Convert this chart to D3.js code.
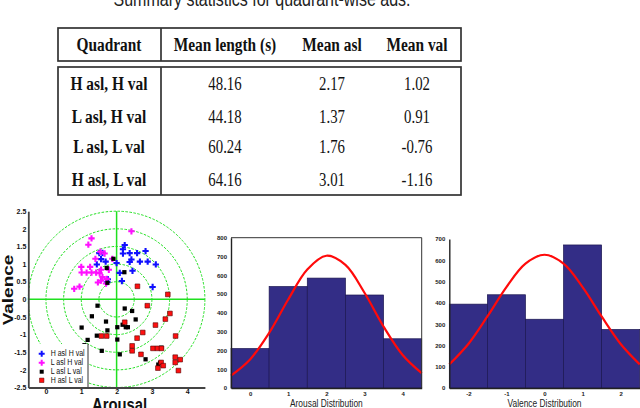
<!DOCTYPE html>
<html>
<head>
<meta charset="utf-8">
<script src="https://cdnjs.cloudflare.com/ajax/libs/d3/7.8.5/d3.min.js"></script>
<style>
  body { margin: 0; background: #fff; }
  svg { display: block; }
</style>
</head>
<body>
<div id="chart"></div>
<script>
// ---- table values ----
const tableHeader = ["Quadrant", "Mean length (s)", "Mean asl", "Mean val"];
const quadrants = ["H asl, H val", "L asl, H val", "L asl, L val", "H asl, L val"];
const meanLength = ["48.16", "44.18", "60.24", "64.16"];
const meanAsl = ["2.17", "1.37", "1.76", "3.01"];
const meanVal = ["1.02", "0.91", "-0.76", "-1.16"];

// ---- scatter values [arousal, valence] ----
const hAslHVal = [[2.23,1.54],[2.18,1.42],[2.18,1.30],[2.37,1.31],[2.58,1.31],[2.82,1.37],[2.42,1.13],[2.37,1.06],
  [2.66,1.07],[2.88,1.07],[3.11,0.99],[2.45,0.81],[2.09,0.75],[2.15,0.52],[3.02,0.35],[1.51,1.31],[1.60,1.32],
  [1.56,1.14],[1.44,0.99],[1.69,1.07],[1.74,0.49],[1.75,0.57],[2.0,1.03]];
const lAslHVal = [[2.42,1.93],[1.29,1.73],[1.20,1.55],[1.54,1.35],[1.66,1.30],[1.40,1.15],[1.00,0.92],[1.25,0.92],
  [1.01,0.76],[1.15,0.76],[1.29,0.76],[1.42,0.76],[1.52,0.74],[1.56,0.84],[1.78,0.84],[1.60,0.63],[1.47,0.48],
  [1.56,0.53],[1.72,0.58],[0.80,0.30],[0.95,0.36],[1.70,0.45],[1.88,1.15]];
const lAslLVal = [[1.91,1.15],[1.72,0.89],[2.22,0.77],[1.74,0.47],[1.46,-0.18],[1.30,-0.48],[2.23,-0.26],[2.44,-0.33],
  [2.54,-0.57],[1.70,-0.63],[1.01,-0.80],[1.74,-0.88],[2.02,-0.79],[2.17,-0.72],[2.26,-0.79],[2.32,-0.79],[1.44,-1.03],
  [1.18,-1.15],[2.02,-1.14],[1.09,-1.30],[1.58,-1.46],[2.09,-1.56],[2.82,-1.70],[3.18,-1.85],[3.27,-1.37],[3.23,-1.80]];
const hAslLVal = [[2.59,0.37],[3.45,0.14],[2.87,-0.18],[3.51,-0.40],[3.38,-0.56],[3.10,-0.73],[2.23,-0.65],[2.74,-0.94],
  [2.58,-1.10],[1.57,-1.04],[1.72,-1.04],[2.44,-1.32],[2.44,-1.46],[2.69,-1.56],[3.03,-1.39],[3.16,-1.39],[3.27,-1.39],
  [3.67,-1.04],[3.66,-1.64],[3.80,-1.71],[3.66,-1.79],[3.26,-1.79],[3.32,-1.88],[3.17,-1.95],[3.75,-2.02]];
const legendLabels = ["H asl H val", "L asl H val", "L asl L val", "H asl L val"];
const ringRadii = [0.5, 1, 1.5, 2, 2.5];
const scatterXTicks = [0, 1, 2, 3, 4];
const scatterYTicks = [-2.5, -2, -1.5, -1, -0.5, 0, 0.5, 1, 1.5, 2, 2.5];

// ---- histograms ----
const arousalBins = [0, 1, 2, 3, 4];
const arousalCounts = [210, 540, 585, 495, 262];
const arousalCurveX = [-0.5, 0, 0.5, 1, 1.5, 2, 2.5, 3, 3.5, 4, 4.5];
const arousalCurveY = [66, 152, 293, 471, 631, 704, 655, 507, 327, 176, 79];
const arousalYTicks = [0, 100, 200, 300, 400, 500, 600, 700, 800];

const valenceBins = [-2, -1, 0, 1, 2];
const valenceCounts = [394, 438, 323, 672, 275];
const valenceCurveX = [-2.5, -2, -1.5, -1, -0.5, 0, 0.5, 1, 1.5, 2, 2.5];
const valenceCurveY = [111, 207, 336, 474, 584, 626, 584, 474, 336, 207, 111];
const valenceYTicks = [0, 100, 200, 300, 400, 500, 600, 700];
const valenceXTicks = [-2, -1, 0, 1, 2];

const W = 640, H = 408;
const svg = d3.select("#chart").append("svg").attr("width", W).attr("height", H);
svg.append("rect").attr("width", W).attr("height", H).attr("fill", "#fff");

// plain hyphen minus, like the original figure
const plain = d => String(d);

// squeezed text helper (the figure is compressed horizontally)
function sText(g, x, y, str, size, sx, opts) {
  opts = opts || {};
  return g.append("text")
    .attr("transform", "translate(" + x + "," + y + ") scale(" + sx + ",1)")
    .attr("text-anchor", opts.anchor || "middle")
    .attr("font-family", opts.family || "'Liberation Serif', serif")
    .attr("font-weight", opts.weight || "normal")
    .attr("font-size", size)
    .attr("fill", opts.fill || "#111")
    .text(str);
}

// ================= caption + table =================
sText(svg, 262, 5.5, "Summary statistics for quadrant-wise ads.", 20, 0.8,
  {family: "'Liberation Sans', Arial, sans-serif", fill: "#222"});

const tbl = svg.append("g");
const colX = [109, 225, 332, 417];
const rowY = [90, 122.7, 153.3, 185.7];
tbl.append("rect").attr("x", 58).attr("y", 28).attr("width", 403).attr("height", 33)
  .attr("fill", "none").attr("stroke", "#333").attr("stroke-width", 1.7);
tbl.append("rect").attr("x", 58).attr("y", 67).attr("width", 403).attr("height", 128)
  .attr("fill", "none").attr("stroke", "#333").attr("stroke-width", 1.7);
tbl.append("line").attr("x1", 161).attr("x2", 161).attr("y1", 28).attr("y2", 61)
  .attr("stroke", "#333").attr("stroke-width", 1.7);
tbl.append("line").attr("x1", 161).attr("x2", 161).attr("y1", 67).attr("y2", 195)
  .attr("stroke", "#333").attr("stroke-width", 1.7);

tableHeader.forEach((h, i) => sText(tbl, colX[i], 50.7, h, 19, 0.81, {weight: "bold"}));
const cols = [meanLength, meanAsl, meanVal];
quadrants.forEach((q, r) => {
  sText(tbl, colX[0], rowY[r], q, 19, 0.81, {weight: "bold"});
  cols.forEach((c, i) => sText(tbl, colX[i + 1], rowY[r], c[r], 19, 0.78));
});

// ================= scatter =================
const sx = d3.scaleLinear().domain([-0.5, 4.5]).range([28.3, 204.9]);
const sy = d3.scaleLinear().domain([-2.5, 2.5]).range([387.5, 211.2]);
const sc = svg.append("g");
const green = "#1fe01f";

ringRadii.forEach(r => {
  sc.append("ellipse")
    .attr("cx", sx(2)).attr("cy", sy(0))
    .attr("rx", sx(2 + r) - sx(2)).attr("ry", sy(0) - sy(r))
    .attr("fill", "none").attr("stroke", green).attr("stroke-width", 1)
    .attr("stroke-dasharray", "2.5,1.5");
});
sc.append("line").attr("x1", sx(2)).attr("x2", sx(2)).attr("y1", sy(2.5)).attr("y2", sy(-2.5))
  .attr("stroke", green).attr("stroke-width", 1.5);
sc.append("line").attr("x1", sx(-0.5)).attr("x2", sx(4.5)).attr("y1", sy(0)).attr("y2", sy(0))
  .attr("stroke", green).attr("stroke-width", 1.5);

const series = [
  {pts: hAslHVal, sym: d3.symbolCross, size: 22, fill: "#1010ff", stroke: "none"},
  {pts: lAslHVal, sym: d3.symbolCross, size: 22, fill: "#ff10ff", stroke: "none"},
  {pts: lAslLVal, sym: d3.symbolSquare, size: 18, fill: "#000", stroke: "none"},
  {pts: hAslLVal, sym: d3.symbolSquare, size: 22, fill: "#ff1010", stroke: "#500"}
];
series.forEach(s => {
  sc.append("g").selectAll("path").data(s.pts).join("path")
    .attr("transform", d => "translate(" + sx(d[0]) + "," + sy(d[1]) + ")")
    .attr("d", d3.symbol().type(s.sym).size(s.size))
    .attr("fill", s.fill).attr("stroke", s.stroke).attr("stroke-width", 0.6);
});

// legend
const lg = sc.append("g");
lg.append("rect").attr("x", 29).attr("y", 344).attr("width", 59).attr("height", 43).attr("fill", "#fff");
lg.append("line").attr("x1", 88).attr("x2", 88).attr("y1", 344).attr("y2", 387)
  .attr("stroke", "#333").attr("stroke-width", 1);
const legY = [353.7, 362.7, 371.7, 380.3];
series.forEach((s, i) => {
  lg.append("path").attr("transform", "translate(41.7," + legY[i] + ")")
    .attr("d", d3.symbol().type(s.sym).size(s.size * 0.9))
    .attr("fill", s.fill).attr("stroke", s.stroke).attr("stroke-width", 0.5);
  sText(lg, 50.7, legY[i] + 2.6, legendLabels[i], 9, 0.78,
    {anchor: "start", family: "'Liberation Sans', Arial, sans-serif", fill: "#111"});
});

// scatter axes
const sAxY = sc.append("g").attr("transform", "translate(28.3,0)")
  .call(d3.axisLeft(sy).tickValues(scatterYTicks).tickSize(0).tickPadding(2).tickFormat(plain));
const sAxX = sc.append("g").attr("transform", "translate(0,387.5)")
  .call(d3.axisBottom(sx).tickValues(scatterXTicks).tickSize(0).tickPadding(2).tickFormat(plain));
[sAxY, sAxX].forEach(a => {
  a.select(".domain").attr("stroke", "#444").attr("stroke-width", 1.8);
  a.selectAll("text").attr("font-family", "'Liberation Sans', Arial, sans-serif")
    .attr("font-weight", "bold").attr("font-size", 7).attr("fill", "#111");
});

sText(svg, 119.5, 410.5, "Arousal", 19, 0.78,
  {family: "'Liberation Sans', Arial, sans-serif", weight: "bold"});
svg.append("text")
  .attr("transform", "translate(12.5,290) rotate(-90) scale(1,0.8)")
  .attr("text-anchor", "middle")
  .attr("font-family", "'Liberation Sans', Arial, sans-serif")
  .attr("font-weight", "bold").attr("font-size", 19).attr("fill", "#111")
  .text("Valence");

// ================= histograms =================
function histogram(opt) {
  const g = svg.append("g");
  const x = d3.scaleLinear().domain(opt.xDom).range(opt.xRange);
  const y = d3.scaleLinear().domain(opt.yDom).range([388, opt.yTop]);

  g.selectAll("rect").data(opt.bins).join("rect")
    .attr("x", (d) => x(d - 0.5))
    .attr("width", (d) => x(d + 0.5) - x(d - 0.5))
    .attr("y", (d, i) => y(opt.counts[i]))
    .attr("height", (d, i) => y(0) - y(opt.counts[i]))
    .attr("fill", "#332d86").attr("stroke", "#1b1650").attr("stroke-width", 0.7);

  const line = d3.line().x(d => x(d[0])).y(d => y(d[1])).curve(d3.curveCatmullRom.alpha(0.5));
  g.append("path").datum(opt.curveX.map((v, i) => [v, opt.curveY[i]]))
    .attr("d", line).attr("fill", "none").attr("stroke", "#ff0a0a").attr("stroke-width", 2.2);

  if (opt.box) {
    g.append("path")
      .attr("d", "M" + x(opt.xDom[0]) + "," + y(opt.yDom[1]) + "H" + x(opt.xDom[1]) + "V" + y(0))
      .attr("fill", "none").attr("stroke", "#333").attr("stroke-width", 1);
  }

  const ay = g.append("g").attr("transform", "translate(" + opt.xRange[0] + ",0)")
    .call(d3.axisLeft(y).tickValues(opt.yTicks).tickSize(0).tickPadding(4).tickFormat(plain));
  const ax = g.append("g").attr("transform", "translate(0,388)")
    .call(d3.axisBottom(x).tickValues(opt.xTicks).tickSize(0).tickPadding(4).tickFormat(plain));
  [ay, ax].forEach(a => {
    a.select(".domain").attr("stroke", "#222").attr("stroke-width", 1.4);
    a.selectAll("text").attr("font-family", "'Liberation Sans', Arial, sans-serif")
      .attr("font-weight", "bold").attr("font-size", 6).attr("fill", "#222");
  });
  sText(g, (opt.xRange[0] + opt.xRange[1]) / 2, 407, opt.title, 10.5, 0.8,
    {family: "'Liberation Sans', Arial, sans-serif", fill: "#222"});
}

histogram({
  xDom: [-0.5, 4.5], xRange: [231, 421.7], yDom: [0, 800], yTop: 237.7,
  bins: arousalBins, counts: arousalCounts, curveX: arousalCurveX, curveY: arousalCurveY,
  yTicks: arousalYTicks, xTicks: arousalBins, title: "Arousal Distribution", box: true
});
histogram({
  xDom: [-2.5, 2.5], xRange: [449.3, 639.7], yDom: [0, 700], yTop: 239,
  bins: valenceBins, counts: valenceCounts, curveX: valenceCurveX, curveY: valenceCurveY,
  yTicks: valenceYTicks, xTicks: valenceXTicks, title: "Valence Distribution", box: false
});
</script>
</body>
</html>
